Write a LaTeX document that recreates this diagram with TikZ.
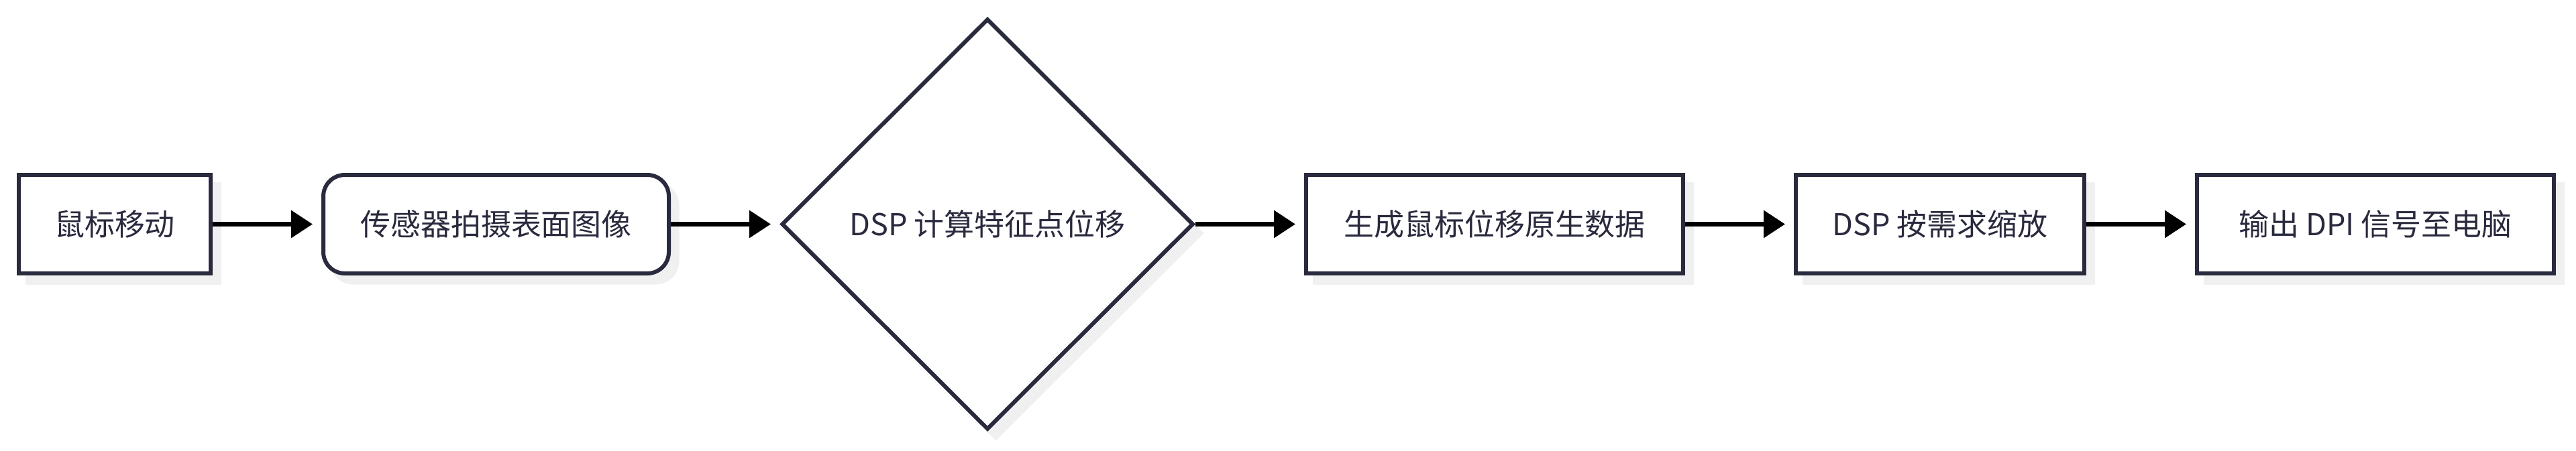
\documentclass[tikz,border=0pt]{standalone}
\usepackage{fontspec}
\setmainfont{Noto Sans CJK SC}
\usepackage{tikz}
\usetikzlibrary{positioning,shapes.geometric,shadows,arrows.meta}
\definecolor{ink}{HTML}{2A2A3E}
\definecolor{shade}{HTML}{F0F0F0}

\begin{document}
\begin{tikzpicture}[node distance={1.62cm}, line width=0.06cm,
  every node/.style = {font=\fontsize{12.8pt}{15pt}\selectfont, text=ink},
  main/.style = {draw=ink, fill=white, rectangle, minimum height=1.47cm, inner sep=0pt,
    drop shadow={shadow xshift=0.125cm, shadow yshift=-0.135cm, fill=shade, draw=shade, opacity=1}},
  round/.style = {main, rounded corners=0.32cm},
  choice/.style = {main, diamond, aspect=1, minimum width=6.14cm, minimum height=6.13cm},
  flow/.style = {-{Triangle[length=0.32cm, width=0.4cm]}, line width=0.065cm, shorten >=0.13cm}]
\useasboundingbox (0,0) rectangle (38.4,6.72);
\node[main, minimum width=2.86cm, anchor=west] (1) at (0.25,3.375) {鼠标移动};
\node[round, minimum width=5.15cm] (2) [right=of 1] {传感器拍摄表面图像};
\node[choice] (3) [right=of 2] {DSP 计算特征点位移};
\node[main, minimum width=5.62cm] (4) [right=of 3] {生成鼠标位移原生数据};
\node[main, minimum width=4.30cm] (5) [right=of 4] {DSP 按需求缩放};
\node[main, minimum width=5.32cm] (6) [right=of 5] {输出 DPI 信号至电脑};
\draw[flow] (1) -- (2);
\draw[flow] (2) -- (3);
\draw[flow] (3) -- (4);
\draw[flow] (4) -- (5);
\draw[flow] (5) -- (6);
\end{tikzpicture}
\end{document}
